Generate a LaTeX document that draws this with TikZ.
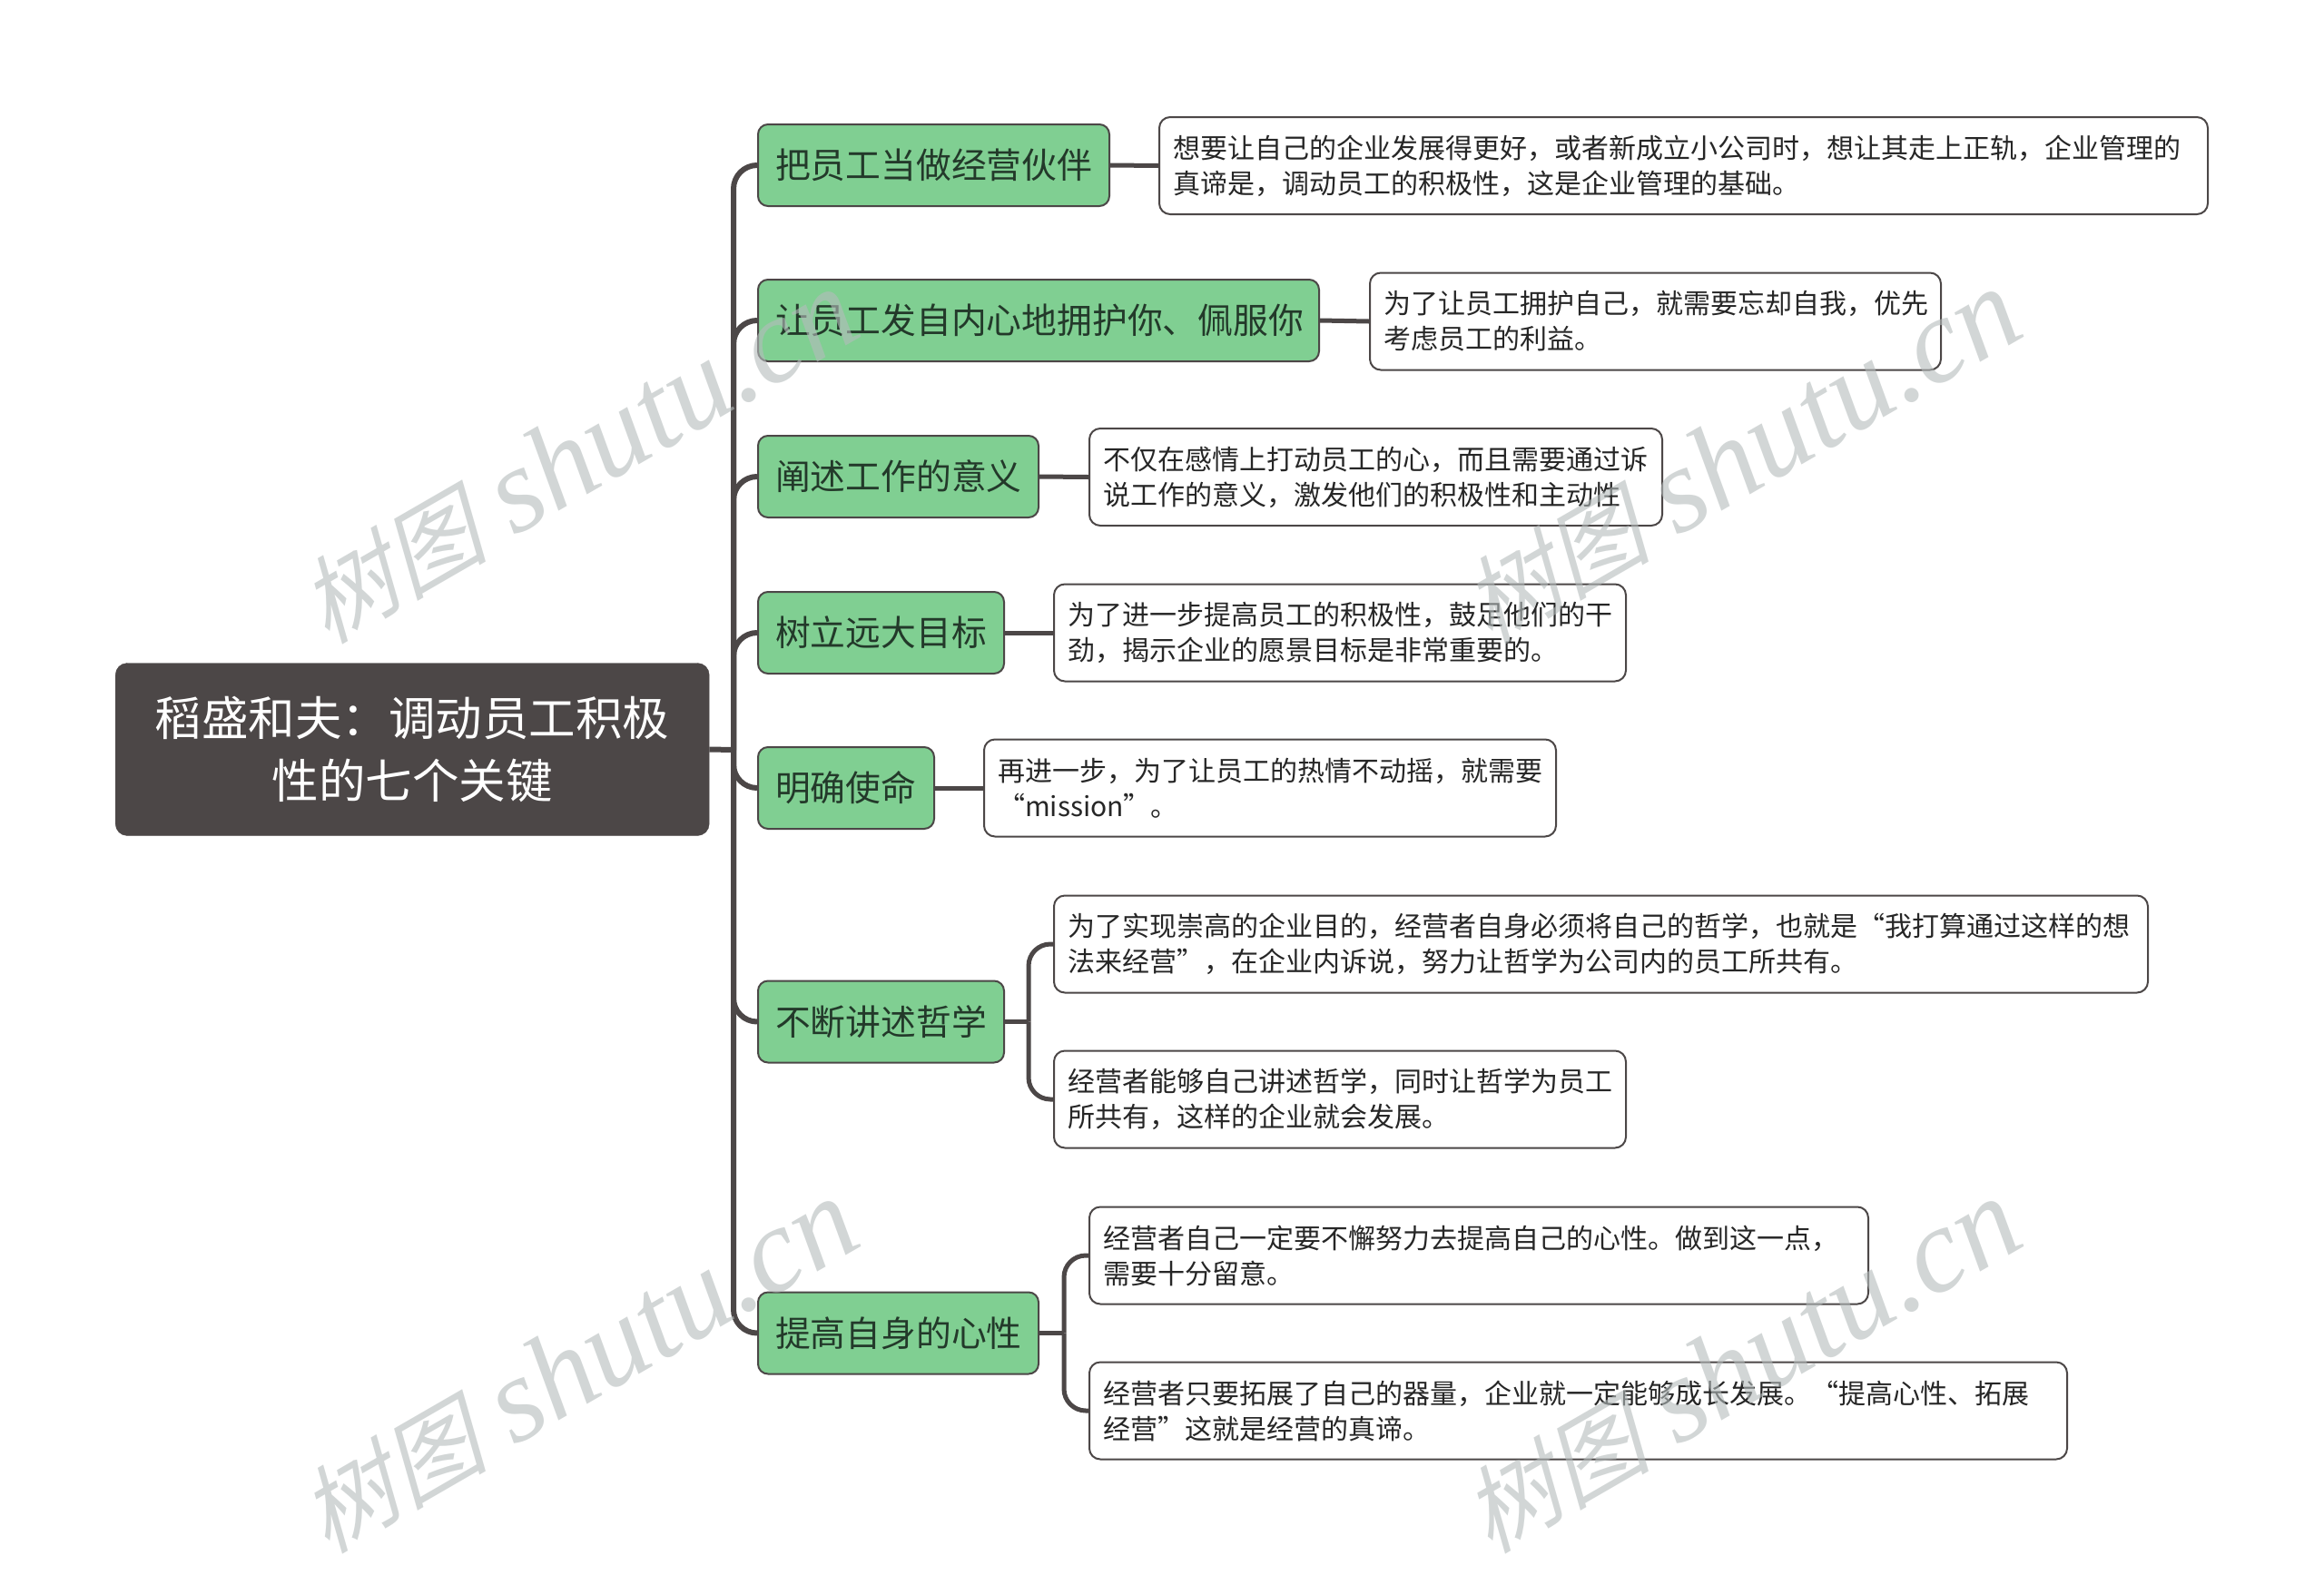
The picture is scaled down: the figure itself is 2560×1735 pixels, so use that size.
\documentclass[tikz,border=0pt]{standalone}
\usepackage{fontspec}
\setmainfont{Noto Sans CJK SC}
\newfontfamily\wmcjk[FakeSlant=0.25]{Noto Sans CJK SC}
\newfontfamily\wmlat{Liberation Serif}[ItalicFont=* Italic]
\definecolor{rootc}{HTML}{4C4747}
\definecolor{greenc}{HTML}{80CF92}
\definecolor{greentext}{HTML}{23392A}
\definecolor{wtext}{HTML}{262626}
\definecolor{wmc}{HTML}{B5BCBC}
\tikzset{
  rootbox/.style={fill=rootc,draw=rootc,rounded corners=13pt,text=white,align=center,inner sep=0pt,
    minimum width=654pt,minimum height=190pt,font=\fontsize{51.5}{69}\selectfont,anchor=west},
  greenbox/.style={fill=greenc,draw=rootc,line width=2pt,rounded corners=11pt,text=greentext,align=left,
    inner xsep=19pt,inner ysep=0pt,minimum height=90pt,font=\fontsize{38.8}{46}\selectfont,anchor=west},
  whitebox/.style={fill=white,draw=rootc,line width=2pt,rounded corners=12pt,text=wtext,align=left,
    inner xsep=15pt,inner ysep=0pt,minimum height=107pt,font=\fontsize{30}{39}\selectfont,anchor=west},
  conn/.style={draw=rootc,line width=6pt,rounded corners=26pt},
  sconn/.style={draw=rootc,line width=5pt,rounded corners=24pt},
  wmark/.style={text=wmc,opacity=0.6,rotate=30,inner sep=0pt}
}
\newcommand{\wmtext}{{\fontsize{104}{130}\selectfont\wmcjk 树图}\hspace{30pt}{\fontsize{133}{130}\selectfont\wmlat\itshape shutu.cn}}
\begin{document}
\begin{tikzpicture}[x=1pt,y=-1pt]
\useasboundingbox (0,0) rectangle (2560,1735);
\fill[white] (0,0) rectangle (2560,1735);

\node[rootbox] (root) at (127,825.5) {稻盛和夫：调动员工积极\\性的七个关键};
\coordinate (trunk) at (808,826);
\coordinate (tr6) at (1133,1125.5);
\coordinate (tr7) at (1172,1468.5);

\node[greenbox,text width=349pt] (g1) at (834,182) {把员工当做经营伙伴};
\node[greenbox,text width=580pt] (g2) at (834,353) {让员工发自内心地拥护你、佩服你};
\node[greenbox,text width=271pt] (g3) at (834,525) {阐述工作的意义};
\node[greenbox,text width=233pt] (g4) at (834,697) {树立远大目标};
\node[greenbox,text width=156pt] (g5) at (834,868) {明确使命};
\node[greenbox,text width=233pt] (g6) at (834,1125.5) {不断讲述哲学};
\node[greenbox,text width=271pt] (g7) at (834,1468.5) {提高自身的心性};

\node[whitebox,text width=1125pt] (w1) at (1276,182.5) {想要让自己的企业发展得更好，或者新成立小公司时，想让其走上正轨，企业管理的\\真谛是，调动员工的积极性，这是企业管理的基础。};
\node[whitebox,text width=599pt] (w2) at (1508,354) {为了让员工拥护自己，就需要忘却自我，优先\\考虑员工的利益。};
\node[whitebox,text width=601pt] (w3) at (1199,525.5) {不仅在感情上打动员工的心，而且需要通过诉\\说工作的意义，激发他们的积极性和主动性};
\node[whitebox,text width=600pt] (w4) at (1160,697) {为了进一步提高员工的积极性，鼓足他们的干\\劲，揭示企业的愿景目标是非常重要的。};
\node[whitebox,text width=600pt] (w5) at (1083,868) {再进一步，为了让员工的热情不动摇，就需要\\“mission”。};
\node[whitebox,text width=1175pt] (w6) at (1160,1040) {为了实现崇高的企业目的，经营者自身必须将自己的哲学，也就是“我打算通过这样的想\\法来经营”，在企业内诉说，努力让哲学为公司内的员工所共有。};
\node[whitebox,text width=600pt] (w7) at (1160,1211) {经营者能够自己讲述哲学，同时让哲学为员工\\所共有，这样的企业就会发展。};
\node[whitebox,text width=828pt] (w8) at (1199,1383) {经营者自己一定要不懈努力去提高自己的心性。做到这一点，\\需要十分留意。};
\node[whitebox,text width=1047pt] (w9) at (1199,1554) {经营者只要拓展了自己的器量，企业就一定能够成长发展。“提高心性、拓展\\经营”这就是经营的真谛。};

\draw[conn,rounded corners=0pt] (root.east) -- (trunk);
\foreach \g in {g1,g2,g3,g4,g5,g6,g7}{
  \draw[conn] (\g.west) -| (trunk);
}
\foreach \g/\w in {g1/w1,g2/w2,g3/w3,g4/w4,g5/w5}{
  \draw[sconn,rounded corners=0pt] (\g.east) -- (\w.west);
}
\draw[sconn,rounded corners=0pt] (g6.east) -- (tr6);
\draw[sconn] (w6.west) -| (tr6);
\draw[sconn] (w7.west) -| (tr6);
\draw[sconn,rounded corners=0pt] (g7.east) -- (tr7);
\draw[sconn] (w8.west) -| (tr7);
\draw[sconn] (w9.west) -| (tr7);

\node[wmark] (wm1) at (636,503) {\wmtext};
\node[wmark] (wm2) at (1917,503) {\wmtext};
\node[wmark] (wm3) at (636,1505) {\wmtext};
\node[wmark] (wm4) at (1917,1505) {\wmtext};
\end{tikzpicture}
\end{document}
